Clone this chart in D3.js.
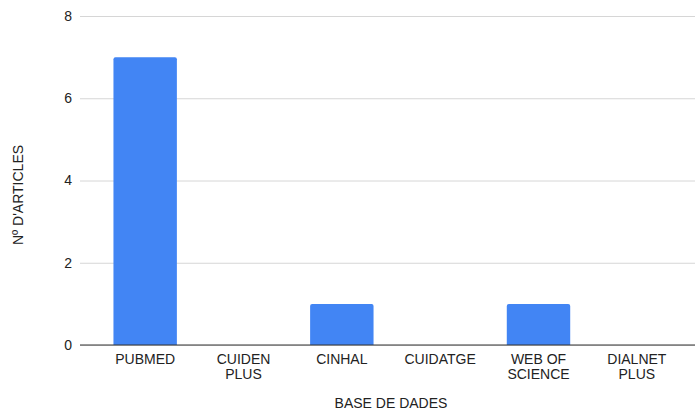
<!DOCTYPE html>
<html>
<head>
<meta charset="UTF-8">
<script src="https://cdn.jsdelivr.net/npm/d3@7"></script>
<style>
body{
    margin:0;
    font-family: "Liberation Sans", Arial, sans-serif;
    background-color: #fff;
}
.grid line{
    stroke:#d6d6d6;
}
.grid path{
    display:none;
}
</style>
</head>
<body>
<script>

var categories = ["PUBMED", "CUIDEN PLUS", "CINHAL", "CUIDATGE", "WEB OF SCIENCE", "DIALNET PLUS"];
var values = [7, 0, 1, 0, 1, 0];
var yTicks = [0, 2, 4, 6, 8];
// label lines as shown under the axis
var labelLines = [["PUBMED"], ["CUIDEN", "PLUS"], ["CINHAL"], ["CUIDATGE"], ["WEB OF", "SCIENCE"], ["DIALNET", "PLUS"]];

var width = 695,
    height = 420;
var plot = {left: 80, right: 695, top: 16, bottom: 345};

var x = d3.scaleBand()
    .domain(categories)
    .range([96, 686])
    .paddingInner(0.355)
    .paddingOuter(0.1775);

var y = d3.scaleLinear()
    .domain([0, 8])
    .range([plot.bottom, plot.top]);

var svg = d3.select("body").append("svg")
    .attr("width", width)
    .attr("height", height);

// gridlines
var gGrid = svg.append("g")
    .attr("class", "grid")
    .attr("transform", "translate(" + plot.left + ",0)")
    .call(d3.axisLeft(y).tickValues(yTicks).tickSize(-(plot.right - plot.left)).tickFormat(""));

// y tick labels
svg.selectAll(".ylab")
    .data(yTicks)
    .enter().append("text")
    .attr("class", "ylab")
    .attr("x", 72)
    .attr("y", function(d){ return y(d); })
    .attr("dy", "0.35em")
    .attr("text-anchor", "end")
    .attr("font-size", 14)
    .attr("fill", "#222")
    .text(function(d){ return d; });

// bars, rounded top corners
function barPath(x0, y0, w, h, r){
    r = Math.min(r, h, w / 2);
    return "M" + x0 + "," + (y0 + h) +
        "V" + (y0 + r) +
        "Q" + x0 + "," + y0 + " " + (x0 + r) + "," + y0 +
        "H" + (x0 + w - r) +
        "Q" + (x0 + w) + "," + y0 + " " + (x0 + w) + "," + (y0 + r) +
        "V" + (y0 + h) + "Z";
}

svg.selectAll(".bar")
    .data(values.map(function(v, i){ return {cat: categories[i], v: v}; }).filter(function(d){ return d.v > 0; }))
    .enter().append("path")
    .attr("class", "bar")
    .attr("fill", "#4285f4")
    .attr("d", function(d){
        return barPath(x(d.cat), y(d.v), x.bandwidth(), y(0) - y(d.v), 2);
    });

// baseline
svg.append("line")
    .attr("x1", plot.left)
    .attr("x2", plot.right)
    .attr("y1", y(0))
    .attr("y2", y(0))
    .attr("stroke", "#333")
    .attr("stroke-width", 1);

// category labels, one text per line
categories.forEach(function(d, i){
    svg.selectAll(null)
        .data(labelLines[i])
        .enter().append("text")
        .attr("class", "xlab")
        .attr("text-anchor", "middle")
        .attr("font-size", 14)
        .attr("fill", "#222")
        .attr("x", x(d) + x.bandwidth() / 2)
        .attr("y", function(line, j){ return 364 + j * 15; })
        .text(function(line){ return line; });
});

// axis titles
svg.append("text")
    .attr("x", 391)
    .attr("y", 408)
    .attr("text-anchor", "middle")
    .attr("font-size", 14)
    .attr("fill", "#222")
    .text("BASE DE DADES");

svg.append("text")
    .attr("transform", "translate(23,195) rotate(-90)")
    .attr("text-anchor", "middle")
    .attr("font-size", 14)
    .attr("fill", "#222")
    .text("Nº D'ARTICLES");

</script>
</body>
</html>
